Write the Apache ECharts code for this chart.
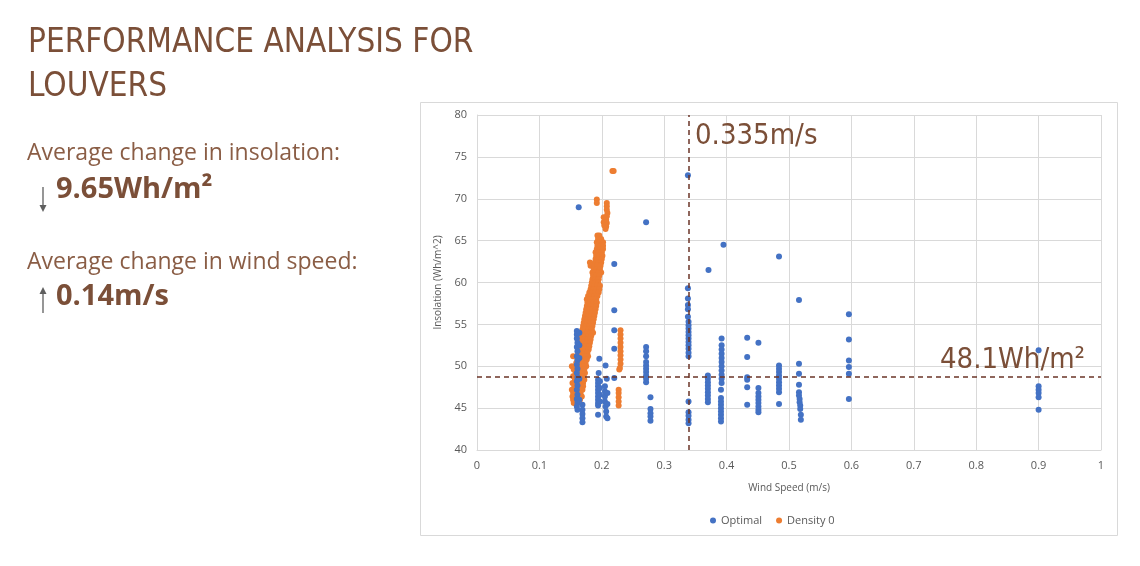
<!DOCTYPE html>
<html>
<head>
<meta charset="utf-8">
<script src="https://cdn.jsdelivr.net/npm/echarts@6/dist/echarts.min.js"></script>
<style>
html,body{margin:0;padding:0;background:#fff;}
#chart{width:1140px;height:566px;}
</style>
</head>
<body>
<div id="chart"></div>
<script>
// ---- data ----
const xTicks = [0, 0.1, 0.2, 0.3, 0.4, 0.5, 0.6, 0.7, 0.8, 0.9, 1];
const yTicks = [40, 45, 50, 55, 60, 65, 70, 75, 80];
const seriesNames = ['Optimal', 'Density 0'];
const windLine = 0.335;
const insolationLine = 48.7;

const optimalPoints = [
  [0.160,54.2],[0.160,53.8],[0.160,53.3],[0.161,52.8],[0.160,52.3],[0.161,51.8],[0.160,51.2],[0.161,50.7],
  [0.160,50.2],[0.161,49.7],[0.160,49.2],[0.161,48.7],[0.160,48.2],[0.161,47.7],[0.160,47.2],[0.161,46.6],
  [0.160,46.1],[0.161,45.6],[0.160,45.2],[0.161,44.8],[0.164,54.0],[0.164,52.5],[0.164,51.0],[0.164,48.5],
  [0.164,46.0],[0.169,45.4],[0.169,44.8],[0.169,44.3],[0.169,43.8],[0.169,43.3],[0.163,69.0],
  [0.194,48.4],[0.194,48.0],[0.194,47.6],[0.194,47.2],[0.194,46.8],[0.194,46.4],[0.194,46.0],[0.194,45.6],
  [0.194,45.3],[0.197,48.2],[0.197,47.4],[0.197,46.6],[0.197,45.8],[0.196,50.9],[0.195,49.2],[0.194,44.2],
  [0.206,50.1],[0.208,48.5],[0.205,47.6],[0.205,47.0],[0.205,46.4],[0.205,45.8],[0.206,45.2],[0.207,44.6],
  [0.207,44.0],[0.209,46.8],[0.209,45.5],[0.209,43.8],
  [0.220,62.2],[0.220,56.7],[0.220,54.3],[0.220,52.1],[0.220,48.6],
  [0.271,52.3],[0.271,51.8],[0.271,51.2],[0.271,50.5],[0.271,50.1],[0.271,49.7],[0.271,49.3],[0.271,48.9],
  [0.271,48.5],[0.271,48.1],[0.278,46.3],[0.278,44.9],[0.278,44.4],[0.278,44.0],[0.278,43.5],[0.271,67.2],
  [0.338,72.8],[0.338,59.3],[0.338,58.1],[0.338,57.3],[0.338,56.8],[0.338,55.9],[0.339,55.3],[0.339,54.9],
  [0.339,54.5],[0.339,54.1],[0.339,53.7],[0.339,53.3],[0.339,52.9],[0.339,52.5],[0.339,52.1],[0.339,51.6],
  [0.339,51.2],[0.339,45.8],[0.339,44.5],[0.339,44.1],[0.339,43.6],[0.339,43.2],
  [0.371,61.5],[0.370,48.9],[0.370,48.5],[0.370,48.1],[0.370,47.7],[0.370,47.3],[0.370,46.9],[0.370,46.5],
  [0.370,46.1],[0.370,45.7],
  [0.395,64.5],[0.392,53.3],[0.392,52.5],[0.392,52.0],[0.392,51.5],[0.392,51.0],[0.392,50.5],[0.392,50.0],
  [0.392,49.5],[0.392,49.0],[0.392,48.5],[0.392,48.0],[0.391,47.2],[0.391,46.2],[0.391,45.8],[0.391,45.4],
  [0.391,45.0],[0.391,44.6],[0.391,44.2],[0.391,43.8],[0.391,43.4],
  [0.433,53.4],[0.433,51.1],[0.433,48.7],[0.433,48.4],[0.433,47.5],[0.433,45.4],
  [0.451,52.8],[0.451,47.4],[0.451,46.8],[0.451,46.4],[0.451,46.0],[0.451,45.6],[0.451,45.2],[0.451,44.8],[0.451,44.5],
  [0.484,63.1],[0.484,50.1],[0.484,49.7],[0.484,49.3],[0.484,48.9],[0.484,48.5],[0.484,48.1],[0.484,47.7],
  [0.484,47.3],[0.484,46.9],[0.484,45.5],
  [0.516,57.9],[0.516,50.3],[0.516,49.1],[0.516,47.8],[0.516,46.9],[0.516,46.5],[0.517,46.1],[0.517,45.7],
  [0.518,45.3],[0.518,44.9],[0.519,44.2],[0.519,43.6],
  [0.596,56.2],[0.596,53.2],[0.596,50.7],[0.596,49.9],[0.596,49.1],[0.596,46.1],
  [0.900,51.9],[0.900,47.6],[0.900,47.2],[0.900,46.8],[0.900,46.3],[0.900,44.8]
];

const density0Points = [
  [0.217,73.3],[0.219,73.3],[0.192,69.9],[0.192,69.5],[0.208,69.5],[0.208,69.1],[0.208,68.7],[0.209,68.3],
  [0.208,67.9],[0.207,67.5],[0.208,67.1],[0.207,66.7],[0.206,66.4],[0.203,67.8],[0.203,67.2],[0.204,66.8],
  [0.193,65.6],[0.196,65.6],[0.194,65.2],[0.199,65.2],
  [0.192,64.8],[0.197,64.8],[0.202,64.8],[0.193,64.4],[0.198,64.4],[0.202,64.4],
  [0.192,64.0],[0.197,64.0],[0.202,64.0],[0.190,63.6],[0.195,63.6],[0.200,63.6],
  [0.191,63.2],[0.196,63.2],[0.201,63.2],[0.190,62.8],[0.195,62.8],[0.200,62.8],
  [0.181,62.4],[0.189,62.4],[0.194,62.4],[0.199,62.4],[0.182,62.0],[0.188,62.0],[0.193,62.0],[0.198,62.0],
  [0.187,61.6],[0.192,61.6],[0.197,61.6],[0.185,61.2],[0.190,61.2],[0.195,61.2],[0.199,61.2],
  [0.186,60.8],[0.191,60.8],[0.196,60.8],[0.185,60.4],[0.190,60.4],[0.195,60.4],
  [0.184,60.0],[0.189,60.0],[0.194,60.0],[0.183,59.6],[0.188,59.6],[0.193,59.6],[0.197,59.6],
  [0.182,59.2],[0.187,59.2],[0.192,59.2],[0.196,59.2],[0.180,58.8],[0.185,58.8],[0.190,58.8],[0.195,58.8],
  [0.178,58.4],[0.183,58.4],[0.188,58.4],[0.193,58.4],[0.176,58.0],[0.181,58.0],[0.186,58.0],[0.191,58.0],
  [0.177,57.6],[0.182,57.6],[0.187,57.6],[0.192,57.6],[0.176,57.2],[0.181,57.2],[0.186,57.2],[0.191,57.2],
  [0.175,56.8],[0.180,56.8],[0.185,56.8],[0.190,56.8],[0.174,56.4],[0.179,56.4],[0.184,56.4],[0.189,56.4],
  [0.173,56.0],[0.178,56.0],[0.183,56.0],[0.188,56.0],[0.172,55.6],[0.177,55.6],[0.182,55.6],[0.187,55.6],
  [0.171,55.2],[0.176,55.2],[0.181,55.2],[0.186,55.2],[0.170,54.8],[0.175,54.8],[0.180,54.8],[0.185,54.8],
  [0.169,54.4],[0.174,54.4],[0.179,54.4],[0.184,54.4],[0.167,54.0],[0.172,54.0],[0.177,54.0],[0.182,54.0],[0.186,54.0],
  [0.168,53.6],[0.173,53.6],[0.178,53.6],[0.183,53.6],[0.167,53.2],[0.172,53.2],[0.177,53.2],[0.182,53.2],
  [0.166,52.8],[0.171,52.8],[0.176,52.8],[0.181,52.8],[0.165,52.4],[0.170,52.4],[0.175,52.4],[0.180,52.4],
  [0.164,52.0],[0.169,52.0],[0.174,52.0],[0.179,52.0],[0.162,51.6],[0.167,51.6],[0.172,51.6],[0.177,51.6],
  [0.154,51.2],[0.163,51.2],[0.168,51.2],[0.173,51.2],[0.178,51.2],[0.161,50.8],[0.166,50.8],[0.171,50.8],[0.176,50.8],
  [0.159,50.4],[0.164,50.4],[0.169,50.4],[0.174,50.4],[0.152,50.0],[0.160,50.0],[0.165,50.0],[0.170,50.0],[0.175,50.0],
  [0.155,49.6],[0.162,49.6],[0.167,49.6],[0.172,49.6],[0.158,49.2],[0.163,49.2],[0.168,49.2],[0.173,49.2],
  [0.154,48.8],[0.161,48.8],[0.166,48.8],[0.171,48.8],[0.157,48.4],[0.162,48.4],[0.167,48.4],[0.172,48.4],
  [0.153,48.0],[0.160,48.0],[0.165,48.0],[0.170,48.0],[0.156,47.6],[0.161,47.6],[0.166,47.6],[0.170,47.6],
  [0.152,47.2],[0.159,47.2],[0.164,47.2],[0.169,47.2],[0.154,46.8],[0.161,46.8],[0.166,46.8],
  [0.153,46.4],[0.159,46.4],[0.164,46.4],[0.168,46.4],[0.154,46.0],[0.160,46.0],[0.165,46.0],
  [0.155,45.6],[0.161,45.6],
  [0.230,54.3],[0.230,53.8],[0.230,53.3],[0.230,52.8],[0.230,52.3],[0.230,51.8],[0.230,51.3],[0.230,50.8],
  [0.230,50.3],[0.229,49.8],[0.228,49.6],[0.227,47.2],[0.227,46.8],[0.227,46.3],[0.227,45.8],[0.227,45.3]
];

// ---- styling ----
const brown = '#7b4f38';
const textBrown = '#8a5d45';
const lineColor = '#6b3427';
const titleFont = '"Liberation Sans Narrow", "DejaVu Sans Condensed", sans-serif';
const bodyFont = '"Open Sans", "Noto Sans", sans-serif';

const chart = echarts.init(document.getElementById('chart'), null, {renderer: 'canvas'});

function arrow(x, y1, y2, up) {
  const tipY = up ? y1 : y2;
  const dir = up ? 1 : -1;
  return {
    type: 'group',
    children: [
      {type: 'line', shape: {x1: x, y1: up ? y1 + 4 : y1, x2: x, y2: up ? y2 : y2 - 4},
       style: {stroke: '#5f5f5f', lineWidth: 1.3}},
      {type: 'polygon', shape: {points: [[x - 3.5, tipY + dir * 7], [x + 3.5, tipY + dir * 7], [x, tipY]]},
       style: {fill: '#5f5f5f'}}
    ]
  };
}

const option = {
  backgroundColor: '#ffffff',
  animation: false,
  color: ['#4472c4', '#ed7d31'],
  grid: {left: 477, right: 39, top: 115, bottom: 116, containLabel: false},
  legend: {
    data: seriesNames,
    left: 705, top: 510,
    icon: 'circle', itemWidth: 6, itemHeight: 6, itemGap: 14,
    textStyle: {color: '#595959', fontSize: 11, fontFamily: 'Open Sans, sans-serif'}
  },
  xAxis: {
    type: 'value', min: xTicks[0], max: xTicks[xTicks.length - 1], interval: 0.1,
    name: 'Wind Speed (m/s)', nameLocation: 'middle', nameGap: 33,
    nameTextStyle: {color: '#595959', fontSize: 10, fontFamily: 'Open Sans, sans-serif'},
    axisLine: {show: true, lineStyle: {color: '#d9d9d9'}},
    axisTick: {show: false},
    axisLabel: {color: '#595959', fontSize: 11, margin: 10, fontFamily: 'Open Sans, sans-serif',
      formatter: v => String(Math.round(v * 10) / 10)},
    splitLine: {show: true, lineStyle: {color: '#d9d9d9'}}
  },
  yAxis: {
    type: 'value', min: yTicks[0], max: yTicks[yTicks.length - 1], interval: 5,
    name: 'Insolation (Wh/m^2)', nameLocation: 'middle', nameGap: 30,
    nameTextStyle: {color: '#595959', fontSize: 10, fontFamily: 'Open Sans, sans-serif'},
    axisLine: {show: true, lineStyle: {color: '#d9d9d9'}},
    axisTick: {show: false},
    axisLabel: {color: '#595959', fontSize: 11, margin: 10, fontFamily: 'Open Sans, sans-serif'},
    splitLine: {show: true, lineStyle: {color: '#d9d9d9'}}
  },
  series: [
    {
      name: seriesNames[0], type: 'scatter', data: optimalPoints, symbolSize: 6, z: 3,
      itemStyle: {color: '#4472c4', opacity: 1},
      markLine: {
        silent: true, symbol: 'none', label: {show: false},
        lineStyle: {color: lineColor, type: [5, 4], width: 1.5},
        data: [{xAxis: windLine}, {yAxis: insolationLine}]
      }
    },
    {
      name: seriesNames[1], type: 'scatter', data: density0Points, symbolSize: 6, z: 2,
      itemStyle: {color: '#ed7d31', opacity: 1}
    }
  ],
  graphic: [
    {type: 'rect', shape: {x: 420.5, y: 102.5, width: 697, height: 433},
     style: {fill: 'none', stroke: '#d9d9d9', lineWidth: 1}, z: -1},
    {type: 'text', x: 28, y: 43, style: {text: 'PERFORMANCE ANALYSIS FOR', fill: brown,
      font: '33px ' + titleFont, textVerticalAlign: 'middle'}},
    {type: 'text', x: 28, y: 87, style: {text: 'LOUVERS', fill: brown,
      font: '33px ' + titleFont, textVerticalAlign: 'middle'}},
    {type: 'text', x: 27, y: 153, style: {text: 'Average change in insolation:', fill: textBrown,
      font: '23px ' + bodyFont, textVerticalAlign: 'middle'}},
    {type: 'text', x: 56, y: 190, style: {text: '9.65Wh/m²', fill: brown,
      font: 'bold 29px ' + bodyFont, textVerticalAlign: 'middle'}},
    {type: 'text', x: 27, y: 262, style: {text: 'Average change in wind speed:', fill: textBrown,
      font: '23px ' + bodyFont, textVerticalAlign: 'middle'}},
    {type: 'text', x: 56, y: 297, style: {text: '0.14m/s', fill: brown,
      font: 'bold 29px ' + bodyFont, textVerticalAlign: 'middle'}},
    arrow(43, 187, 212, false),
    arrow(43, 287, 313, true),
    {type: 'text', x: 695, y: 136, style: {text: '0.335m/s', fill: brown,
      font: '29px ' + titleFont, textVerticalAlign: 'middle'}, z: 10},
    {type: 'text', x: 940, y: 360, style: {text: '48.1Wh/m²', fill: brown,
      font: '29px ' + titleFont, textVerticalAlign: 'middle'}, z: 10}
  ]
};
chart.setOption(option);
</script>
</body>
</html>
